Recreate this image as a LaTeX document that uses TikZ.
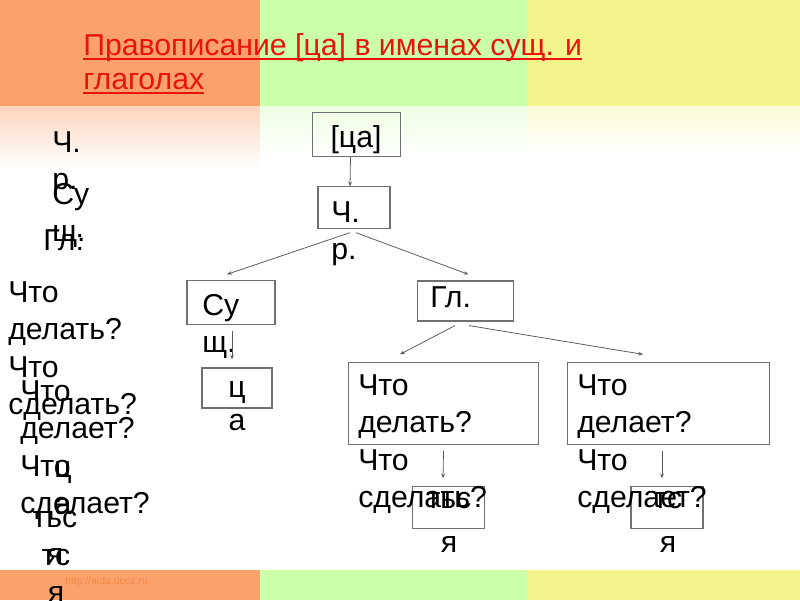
\documentclass[tikz,border=0pt]{standalone}
\usepackage{fontspec}
\setmainfont{Liberation Sans}
\usetikzlibrary{arrows.meta,positioning,calc}
\definecolor{orng}{HTML}{FBA26C}
\definecolor{lgreen}{HTML}{CCFFAA}
\definecolor{lyellow}{HTML}{F4F48C}
\definecolor{titlered}{HTML}{E8140C}
\definecolor{frame}{HTML}{707070}
\definecolor{wire}{HTML}{5A5A5A}
\definecolor{wmark}{HTML}{F08A48}
\tikzset{
  box/.style={rectangle,draw=frame,line width=0.8pt,inner sep=0pt},
  word/.style={font=\fontsize{21.5}{26.7}\selectfont,inner sep=0pt,text width=6cm,align=left,anchor=base west},
  cword/.style={font=\fontsize{21.5}{26.7}\selectfont,inner sep=0pt,text width=3cm,align=center,anchor=base},
  title/.style={font=\fontsize{21.5}{24}\selectfont,text=titlered,inner sep=0pt,anchor=base west},
  arrow/.style={-{Stealth[length=3.4pt,width=2.6pt]},line width=0.55pt,wire}
}

\begin{document}
\begin{tikzpicture}[x=0.025cm,y=-0.025cm]
    \useasboundingbox (0,0) rectangle (800,600);
    \fill[orng] (0,0) rectangle (260,106);
    \fill[lgreen] (260,0) rectangle (528,106);
    \fill[lyellow] (528,0) rectangle (800,106);
    \shade[top color=orng!45,bottom color=white] (0,106) rectangle (260,168);
    \shade[top color=lgreen!35,bottom color=white] (260,106) rectangle (528,155);
    \shade[top color=lyellow!35,bottom color=white] (528,106) rectangle (800,155);
    \fill[orng] (0,570) rectangle (260,600);
    \fill[lgreen] (260,570) rectangle (528,600);
    \fill[lyellow] (528,570) rectangle (800,600);
    \node[font=\fontsize{7.4}{8}\selectfont,text=wmark,anchor=west,inner sep=0pt] (url) at (65,582) {http://aida.ucoz.ru};

    \node[title] (t1) at (83,55) {Правописание [ца] в именах сущ. и};
    \node[title] (t2) at (83,89) {глаголах};
    \draw[titlered,line width=1.4pt] ($(t1.base west)+(0,4)$) -- ($(t1.base east)+(0,4)$);
    \draw[titlered,line width=1.4pt] ($(t2.base west)+(0,4)$) -- ($(t2.base east)+(0,4)$);

    % left column
    \node[word] (lch) at (52,152) {Ч.\\р.};
    \node[word] (lsu) at (52,204) {Су\\щ.};
    \node[word] (lgl) at (43,250) {Гл:};
    \node[word] (lq1) at (8,302) {Что\\делать?\\Что\\сделать?};
    \node[word] (lq2) at (20,401) {Что\\делает?\\Что\\сделает?};
    \node[cword] (lts) at (63,477) {ц\\а};
    \node[cword] (ltsa) at (55,527) {тьс\\я};
    \node[cword] (ltsb) at (56,565) {тс\\я};

    % tree
    \node[box,minimum width=2.18cm,minimum height=1.08cm] (ca) at (356.5,134.5) {};
    \node[box,minimum width=1.8cm,minimum height=1.03cm] (ch) at (354,207.5) {};
    \node[box,minimum width=2.2cm,minimum height=1.08cm] (su) at (231,302.5) {};
    \node[box,minimum width=2.38cm,minimum height=1cm] (gl) at (465.5,301) {};
    \node[box,minimum width=1.75cm,minimum height=1cm] (ts) at (237,388) {};
    \node[box,minimum width=4.73cm,minimum height=2.03cm] (dl) at (443.5,403.5) {};
    \node[box,minimum width=5.03cm,minimum height=2.03cm] (dd) at (668.5,403.5) {};
    \node[box,minimum width=1.78cm,minimum height=1.03cm] (tsa) at (448.5,507.5) {};
    \node[box,minimum width=1.8cm,minimum height=1.03cm] (tsb) at (667,507.5) {};

    \node[cword] (catx) at (356,147) {[ца]};
    \node[word] (chtx) at (331,222) {Ч.\\р.};
    \node[word] (sutx) at (202,315) {Су\\щ.};
    \node[word] (gltx) at (430,307) {Гл.};
    \node[cword] (tstx) at (237,397) {ц\\[-3pt]а};
    \node[word] (dltx) at (358,395) {Что\\делать?\\Что\\сделать?};
    \node[word] (ddtx) at (577,395) {Что\\делает?\\Что\\сделает?};
    \node[cword] (tatx) at (449,508) {тьс\\[5pt]я};
    \node[cword] (tbtx) at (668,508) {тс\\[5pt]я};

    \draw[arrow] ($(ca.south)+(-6,0)$) -- ($(ch.north)+(-4,0)$);
    \draw[arrow] ($(ch.south)+(-4,4)$) -- ($(su.north)+(-4,-6)$);
    \draw[arrow] ($(ch.south)+(2,4)$) -- ($(gl.north)+(3,-6)$);
    \draw[arrow] ($(su.south)+(1,6)$) -- ($(ts.north)+(-5,-8)$);
    \draw[arrow] ($(gl.south)+(-10.5,4)$) -- ($(dl.north)+(-43.5,-8)$);
    \draw[arrow] ($(gl.south)+(3.5,4)$) -- ($(dd.north)+(-25.5,-8)$);
    \draw[arrow] ($(dl.south)+(0,6)$) -- ($(tsa.north)+(-5.5,-8)$);
    \draw[arrow] ($(dd.south)+(-6.5,6)$) -- ($(tsb.north)+(-5,-8)$);
  \end{tikzpicture}
\end{document}
